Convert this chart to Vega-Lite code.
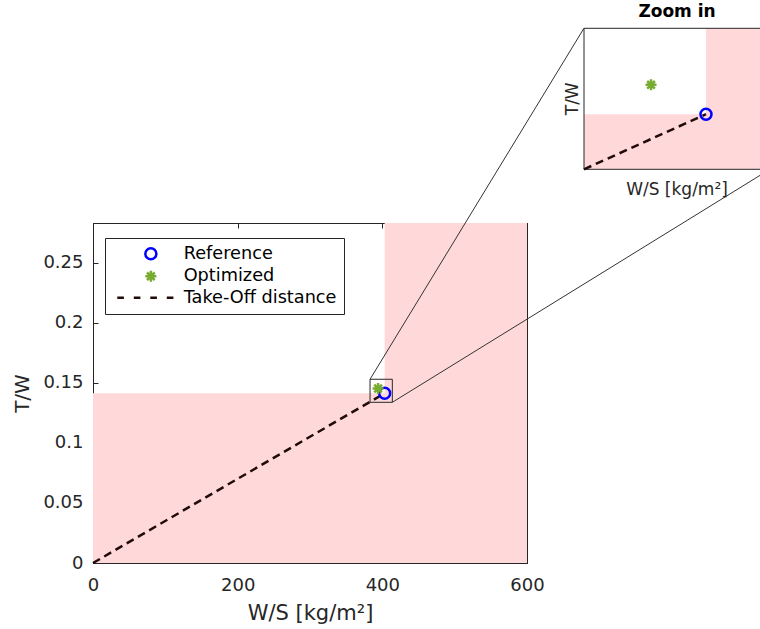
{
  "$schema": "https://vega.github.io/schema/vega-lite/v6.json",
  "width": 434,
  "height": 340,
  "autosize": {"type": "none"},
  "padding": {"left": 93, "top": 223, "right": 233, "bottom": 66},
  "background": "white",
  "config": {
    "font": "DejaVu Sans",
    "view": {"stroke": "#262626", "strokeWidth": 1},
    "axis": {"grid": false}
  },
  "datasets": {
    "regions": [
      {"x1": 0, "x2": 600, "y1": 0, "y2": 0.1414},
      {"x1": 403.2, "x2": 600, "y1": 0.1405, "y2": 0.2833}
    ],
    "line": [
      {"ws": 0, "tw": 0},
      {"ws": 403.2, "tw": 0.1414}
    ],
    "pts": [
      {"series": "Reference", "ws": 403.2, "tw": 0.1414},
      {"series": "Optimized", "ws": 394.1, "tw": 0.1454}
    ],
    "zoombox": [
      {"x1": 383, "x2": 413.8, "y1": 0.1339, "y2": 0.1531}
    ],
    "connectors": [
      {"x1": 383, "y1": 0.1531, "x2": 678.8, "y2": 0.4456},
      {"x1": 413.8, "y1": 0.1339, "x2": 935.9, "y2": 0.3281}
    ],
    "insettitle": [
      {"label": "Zoom in", "ws": 398.4, "tw": 0.1531}
    ],
    "insetxlabel": [
      {"label": "W/S [kg/m²]", "ws": 398.4, "tw": 0.1339}
    ],
    "insetylabel": [
      {"label": "T/W", "ws": 383, "tw": 0.1435}
    ]
  },
  "layer": [
    {
      "layer": [
        {
          "data": {"name": "regions"},
          "mark": {"type": "rect", "fill": "#ffd9d9"},
          "encoding": {
            "x": {"field": "x1", "type": "quantitative",
              "scale": {"domain": [0, 600], "nice": false},
              "axis": {"orient": "bottom", "values": [0, 200, 400, 600], "format": "d", "labelFlush": false,
                "tickSize": -5, "labelPadding": 18, "labelFontSize": 18, "labelColor": "#262626",
                "domainColor": "#262626", "tickColor": "#262626",
                "title": "W/S [kg/m²]", "titleFontSize": 21, "titleFontWeight": "normal",
                "titleColor": "#262626", "titlePadding": 8}},
            "x2": {"field": "x2"},
            "y": {"field": "y1", "type": "quantitative",
              "scale": {"domain": [0, 0.2833], "nice": false},
              "axis": {"orient": "left", "values": [0, 0.05, 0.1, 0.15, 0.2, 0.25], "format": "~g", "labelFlush": false,
                "tickSize": -5, "labelPadding": 15, "labelFontSize": 18, "labelColor": "#262626",
                "domainColor": "#262626", "tickColor": "#262626",
                "title": "T/W", "titleFontSize": 20, "titleFontWeight": "normal",
                "titleColor": "#262626", "titlePadding": 10}},
            "y2": {"field": "y2"}
          }
        },
        {
          "data": {"name": "regions"},
          "mark": {"type": "rect", "opacity": 0},
          "encoding": {
            "x": {"field": "x1", "type": "quantitative",
              "axis": {"orient": "top", "values": [0, 200, 400, 600], "labels": false,
                "tickSize": -5, "domainColor": "#262626", "tickColor": "#262626", "title": null}},
            "x2": {"field": "x2"},
            "y": {"field": "y1", "type": "quantitative",
              "axis": {"orient": "right", "values": [0, 0.05, 0.1, 0.15, 0.2, 0.25], "labels": false,
                "tickSize": -5, "domainColor": "#262626", "tickColor": "#262626", "title": null}},
            "y2": {"field": "y2"}
          }
        },
        {
          "data": {"name": "line"},
          "mark": {"type": "line", "stroke": "#200a0a", "strokeWidth": 2.5, "strokeDash": [8, 5]},
          "encoding": {
            "x": {"field": "ws", "type": "quantitative", "axis": null},
            "y": {"field": "tw", "type": "quantitative", "axis": null}
          }
        },
        {
          "data": {"name": "zoombox"},
          "mark": {"type": "rect", "filled": false, "stroke": "#262626", "strokeWidth": 1},
          "encoding": {
            "x": {"field": "x1", "type": "quantitative", "axis": null},
            "x2": {"field": "x2"},
            "y": {"field": "y1", "type": "quantitative", "axis": null},
            "y2": {"field": "y2"}
          }
        },
        {
          "data": {"name": "connectors"},
          "mark": {"type": "rule", "stroke": "#333333", "strokeWidth": 1, "clip": false},
          "encoding": {
            "x": {"field": "x1", "type": "quantitative", "axis": null},
            "x2": {"field": "x2"},
            "y": {"field": "y1", "type": "quantitative", "axis": null},
            "y2": {"field": "y2"}
          }
        },
        {
          "data": {"name": "pts"},
          "mark": {"type": "point", "filled": false, "opacity": 1, "strokeWidth": 2.5, "size": 121},
          "encoding": {
            "x": {"field": "ws", "type": "quantitative", "axis": null},
            "y": {"field": "tw", "type": "quantitative", "axis": null},
            "color": {"field": "series", "type": "nominal",
              "scale": {"domain": ["Reference", "Optimized", "Take-Off distance"],
                "range": ["#0000ff", "#77ac30", "#200a0a"]},
              "legend": {"orient": "none", "legendX": 12, "legendY": 15, "title": null,
                "padding": 7, "strokeColor": "#262626", "fillColor": "white",
                "labelFontSize": 17.7, "labelColor": "#000000", "symbolSize": 121,
                "symbolStrokeWidth": 2.5, "symbolOpacity": 1, "symbolOffset": 30,
                "labelOffset": 24, "rowPadding": 0.5}},
            "shape": {"field": "series", "type": "nominal",
              "scale": {"domain": ["Reference", "Optimized", "Take-Off distance"],
                "range": ["circle",
                  "M0,-1V1M-1,0H1M-0.7,-0.7L0.7,0.7M-0.7,0.7L0.7,-0.7",
                  "M-6.1,0H-4.9M-3.1,0H-1.9M-0.1,0H1.1M2.9,0H4.1"]},
              "legend": {"orient": "none", "legendX": 12, "legendY": 15, "title": null,
                "padding": 7, "strokeColor": "#262626", "fillColor": "white",
                "labelFontSize": 17.7, "labelColor": "#000000", "symbolSize": 121,
                "symbolStrokeWidth": 2.5, "symbolOpacity": 1, "symbolOffset": 30,
                "labelOffset": 24, "rowPadding": 0.5}}
          }
        }
      ],
      "resolve": {"axis": {"x": "independent", "y": "independent"}}
    },
    {
      "layer": [
        {
          "data": {"name": "regions"},
          "mark": {"type": "rect", "fill": "#ffd9d9"},
          "encoding": {
            "x": {"field": "x1", "type": "quantitative",
              "scale": {"domain": [383, 413.8], "range": [491, 677], "clamp": true, "nice": false, "zero": false},
              "axis": null},
            "x2": {"field": "x2"},
            "y": {"field": "y1", "type": "quantitative",
              "scale": {"domain": [0.1339, 0.1531], "range": [-53.7, -194.7], "clamp": true, "nice": false, "zero": false},
              "axis": null},
            "y2": {"field": "y2"}
          }
        },
        {
          "data": {"name": "zoombox"},
          "mark": {"type": "rect", "filled": false, "stroke": "#262626", "strokeWidth": 1, "clip": false},
          "encoding": {
            "x": {"field": "x1", "type": "quantitative", "axis": null},
            "x2": {"field": "x2"},
            "y": {"field": "y1", "type": "quantitative", "axis": null},
            "y2": {"field": "y2"}
          }
        },
        {
          "data": {"name": "line"},
          "mark": {"type": "line", "stroke": "#200a0a", "strokeWidth": 2.5, "strokeDash": [8, 5]},
          "encoding": {
            "x": {"field": "ws", "type": "quantitative", "axis": null},
            "y": {"field": "tw", "type": "quantitative", "axis": null}
          }
        },
        {
          "data": {"name": "pts"},
          "mark": {"type": "point", "filled": false, "opacity": 1, "strokeWidth": 2.5, "size": 121},
          "encoding": {
            "x": {"field": "ws", "type": "quantitative", "axis": null},
            "y": {"field": "tw", "type": "quantitative", "axis": null},
            "color": {"field": "series", "type": "nominal",
              "scale": {"domain": ["Reference", "Optimized", "Take-Off distance"],
                "range": ["#0000ff", "#77ac30", "#200a0a"]},
              "legend": {"orient": "none", "legendX": 12, "legendY": 15, "title": null,
                "padding": 7, "strokeColor": "#262626", "fillColor": "white",
                "labelFontSize": 17.7, "labelColor": "#000000", "symbolSize": 121,
                "symbolStrokeWidth": 2.5, "symbolOpacity": 1, "symbolOffset": 30,
                "labelOffset": 24, "rowPadding": 0.5}},
            "shape": {"field": "series", "type": "nominal",
              "scale": {"domain": ["Reference", "Optimized", "Take-Off distance"],
                "range": ["circle",
                  "M0,-1V1M-1,0H1M-0.7,-0.7L0.7,0.7M-0.7,0.7L0.7,-0.7",
                  "M-6.1,0H-4.9M-3.1,0H-1.9M-0.1,0H1.1M2.9,0H4.1"]},
              "legend": {"orient": "none", "legendX": 12, "legendY": 15, "title": null,
                "padding": 7, "strokeColor": "#262626", "fillColor": "white",
                "labelFontSize": 17.7, "labelColor": "#000000", "symbolSize": 121,
                "symbolStrokeWidth": 2.5, "symbolOpacity": 1, "symbolOffset": 30,
                "labelOffset": 24, "rowPadding": 0.5}}
          }
        },
        {
          "data": {"name": "insettitle"},
          "mark": {"type": "text", "fontWeight": "bold", "fontSize": 17, "baseline": "bottom", "dy": -7, "color": "#000000", "clip": false},
          "encoding": {
            "x": {"field": "ws", "type": "quantitative", "axis": null},
            "y": {"field": "tw", "type": "quantitative", "axis": null},
            "text": {"field": "label"}
          }
        },
        {
          "data": {"name": "insetxlabel"},
          "mark": {"type": "text", "fontSize": 17, "baseline": "top", "align": "center", "dy": 13, "color": "#262626", "clip": false},
          "encoding": {
            "x": {"field": "ws", "type": "quantitative", "axis": null},
            "y": {"field": "tw", "type": "quantitative", "axis": null},
            "text": {"field": "label"}
          }
        },
        {
          "data": {"name": "insetylabel"},
          "mark": {"type": "text", "fontSize": 17, "baseline": "bottom", "align": "center", "angle": 270, "dy": -2, "color": "#262626", "clip": false},
          "encoding": {
            "x": {"field": "ws", "type": "quantitative", "axis": null},
            "y": {"field": "tw", "type": "quantitative", "axis": null},
            "text": {"field": "label"}
          }
        }
      ]
    }
  ],
  "resolve": {"scale": {"x": "independent", "y": "independent"}}
}
